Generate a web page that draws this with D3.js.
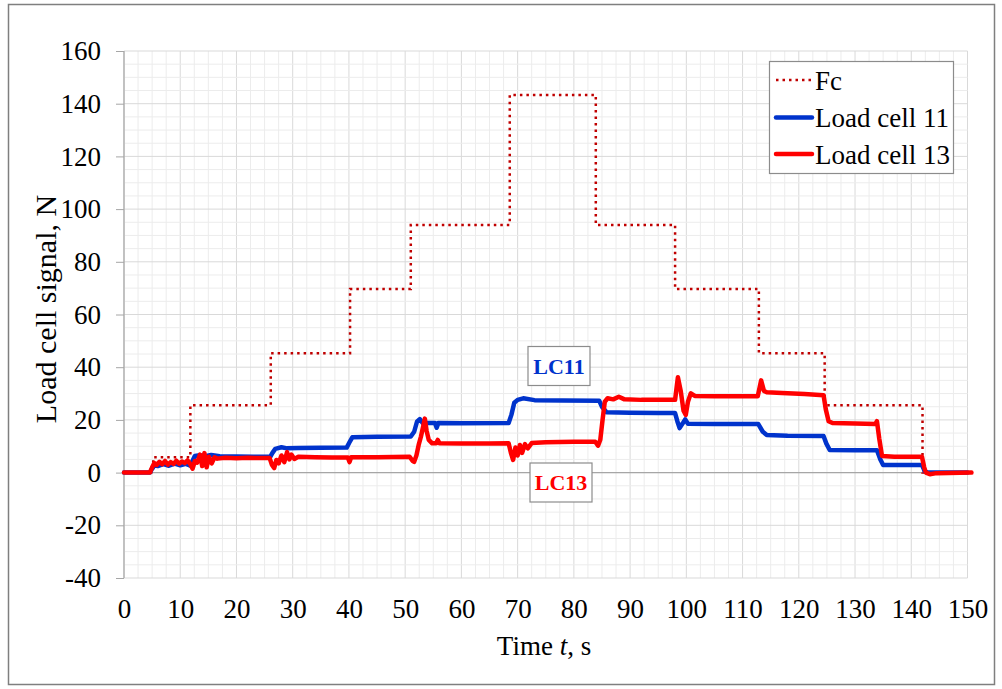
<!DOCTYPE html>
<html>
<head>
<meta charset="utf-8">
<script src="https://cdn.jsdelivr.net/npm/d3@7/dist/d3.min.js"></script>
<style>
  html, body { margin: 0; padding: 0; background: #fff; }
  svg text { font-family: "Liberation Serif", "Times New Roman", serif; }
</style>
</head>
<body>
<svg id="chart" width="1002" height="689"></svg>
<script>
// ---- data ----
const xTicks = [0, 10, 20, 30, 40, 50, 60, 70, 80, 90, 100, 110, 120, 130, 140, 150];
const yTicks = [-40, -20, 0, 20, 40, 60, 80, 100, 120, 140, 160];

const fcTime  = [0, 5.2, 11.8, 26.1, 40.2, 51.0, 68.6, 83.9, 98.0, 112.9, 124.6, 142.0, 150];
const fcValue = [0, 5.8, 25.6, 45.3, 69.7, 94.0, 143.3, 94.0, 69.7, 45.3, 25.6, 0, 0];

const lc11 = [[0,0],[4.6,0],[5.0,1.5],[5.4,2.8],[6,2.5],[7,3.2],[8,2.6],[9,3.4],[10,2.8],[11,3.3],[11.8,2.6],
  [12.2,4.5],[12.6,6.3],[13.5,6.6],[14.5,6.2],[15.5,6.7],[17,6.2],[20,6.1],[23,6.0],[26,6.0],[26.4,7.5],[26.9,9.0],
  [28,9.6],[29,9.2],[31,9.3],[35,9.4],[39.6,9.5],[40.1,11.5],[40.6,13.4],[45,13.6],[51,13.7],[51.6,15.5],[52.1,19.3],
  [52.6,20.3],[53.1,18.8],[55.3,18.8],[55.6,17.0],[55.9,18.8],[60,18.7],[68.4,18.8],[68.9,22],[69.4,26.5],[70,27.6],
  [71,28.2],[73,27.5],[78,27.4],[84.5,27.3],[85,25],[85.8,22.9],[90,22.7],[95,22.6],[98,22.6],[98.4,19.5],[98.8,16.9],
  [99.3,18.5],[99.8,20.2],[100.3,18.5],[105,18.4],[112.8,18.4],[113.6,15.5],[114.3,14.3],[118,14.0],[124.4,13.9],
  [124.9,11],[125.5,8.6],[130,8.5],[133.9,8.5],[134.5,5],[135,2.9],[140,2.9],[141.9,2.9],[142.4,0.5],[143,0],[150,0]];

const lc13 = [[0,0],[4.6,0],[5.0,2],[5.4,3.6],[5.8,2.9],[6.3,4.1],[6.8,3.2],[7.3,4.4],[7.8,3.0],[8.3,4.0],[8.8,3.3],
  [9.3,4.5],[9.8,3.4],[10.3,4.2],[10.8,3.6],[11.3,4.6],[11.8,3.2],[12.2,1.5],[12.6,4.4],[13.0,3.8],[13.5,6.8],[13.9,2.5],
  [14.3,7.4],[14.7,2.0],[15.1,6.0],[15.6,3.5],[16.1,5.8],[16.6,5.3],[18,5.6],[20,5.4],[22,5.6],[24,5.5],[25.9,5.5],
  [26.3,3.0],[26.7,1.7],[27.1,4.8],[27.5,3.5],[28,6.5],[28.5,4.0],[29,7.8],[29.4,5.0],[29.8,6.8],[30.3,5.2],[31,6.0],
  [34,5.8],[37,5.7],[39.8,5.7],[40.1,4.0],[40.4,5.8],[45,5.8],[50.8,6.0],[51.3,4.5],[51.6,4.1],[52.0,6.5],[52.4,10.5],
  [52.8,13.6],[53.2,17.5],[53.5,20.5],[53.8,16],[54.2,12.4],[54.8,11.1],[55.5,11.1],[55.8,12.4],[56.1,11.1],[60,11.0],
  [65,11.0],[68.4,11.1],[68.8,7.5],[69.2,4.8],[69.6,9.5],[70.0,6.5],[70.4,10.5],[70.8,7.5],[71.3,10.8],[71.8,9.2],
  [72.5,11.2],[75,11.5],[80,11.7],[83.8,11.7],[84.3,10.2],[84.7,12.5],[85.1,20],[85.5,26.9],[86,28.2],[87,27.8],
  [88,28.8],[89,27.8],[92,27.6],[95,27.6],[98,27.6],[98.5,36.2],[99.0,31],[99.5,23.5],[99.9,21.9],[100.3,27],
  [100.8,30.1],[101.5,29.1],[105,29.0],[112.7,29.0],[113.3,35.0],[113.8,31],[114.3,30.5],[117,30.2],[121,29.8],
  [124.4,29.4],[124.8,24],[125.3,19.5],[126,18.8],[130,18.6],[133.6,18.4],[133.9,19.5],[134.3,13],[134.8,6.3],
  [137,6.0],[141.9,6.0],[142.3,2],[142.6,0],[143.3,-0.6],[144.5,-0.2],[150.7,0]];

const legendLabels = ["Fc", "Load cell 11", "Load cell 13"];
const colors = { fc: "#c00000", lc11: "#0033cc", lc13: "#ff0000" };

(function () {
// ---- layout ----
const svg = d3.select("#chart");
const pLeft = 124, pRight = 967.5, pTop = 51, pBottom = 578;
const x = d3.scaleLinear().domain([0, 150]).range([pLeft, pRight]);
const y = d3.scaleLinear().domain([-40, 160]).range([pBottom, pTop]);
const FS = "27px";

// outer frame
svg.append("rect").attr("x", 8.5).attr("y", 4.5).attr("width", 986).attr("height", 680)
  .attr("fill", "#fff").attr("stroke", "#7f7f7f").attr("stroke-width", 1.5);

// grid
const g = svg.append("g");
const minorX = d3.range(0, 150.01, 2.5);
const minorY = d3.range(-40, 160.01, 5);
g.selectAll(".mx").data(minorX).join("line")
  .attr("x1", d => x(d)).attr("x2", d => x(d)).attr("y1", pTop).attr("y2", pBottom)
  .attr("stroke", d => d % 10 === 0 ? "#d9d9d9" : "#ececec").attr("stroke-width", 1);
g.selectAll(".my").data(minorY).join("line")
  .attr("y1", d => y(d)).attr("y2", d => y(d)).attr("x1", pLeft).attr("x2", pRight)
  .attr("stroke", d => d % 20 === 0 ? "#d9d9d9" : "#ececec").attr("stroke-width", 1);

// axes lines
svg.append("line").attr("x1", x(0)).attr("x2", x(0)).attr("y1", pTop).attr("y2", pBottom)
  .attr("stroke", "#a6a6a6").attr("stroke-width", 1.2);
svg.append("line").attr("x1", pLeft).attr("x2", pRight).attr("y1", y(0)).attr("y2", y(0))
  .attr("stroke", "#a6a6a6").attr("stroke-width", 1.2);

// y ticks & labels
const yAxis = d3.axisLeft(y).tickValues(yTicks).tickSize(8).tickPadding(15).tickFormat(d => String(d));
const ya = svg.append("g").attr("transform", `translate(${pLeft},0)`).call(yAxis);
ya.select(".domain").remove();
ya.selectAll(".tick line").attr("stroke", "#a6a6a6");
ya.selectAll(".tick text").attr("fill", "#000").style("font-size", FS)
  .style("font-family", "'Liberation Serif', serif");

// x tick labels (low position)
const xAxis = d3.axisBottom(x).tickValues(xTicks).tickSize(0).tickPadding(21).tickFormat(d => String(d));
const xa = svg.append("g").attr("transform", `translate(0,${pBottom})`).call(xAxis);
xa.select(".domain").remove();
xa.selectAll(".tick text").attr("fill", "#000").style("font-size", FS)
  .style("font-family", "'Liberation Serif', serif");

// axis titles
const xt = svg.append("text").attr("x", 544).attr("y", 655).attr("text-anchor", "middle")
  .style("font-size", FS);
xt.append("tspan").text("Time ");
xt.append("tspan").attr("font-style", "italic").text("t");
xt.append("tspan").text(", s");

svg.append("text").attr("transform", "translate(56,309) rotate(-90)").attr("text-anchor", "middle")
  .style("font-size", "30px").text("Load cell signal, N");

// series
const fcPts = fcTime.map((t, i) => [t, fcValue[i]]);
const stepLine = d3.line().x(d => x(d[0])).y(d => y(d[1])).curve(d3.curveStepAfter);
const line = d3.line().x(d => x(d[0])).y(d => y(d[1]));

svg.append("path").attr("d", stepLine(fcPts)).attr("fill", "none")
  .attr("stroke", colors.fc).attr("stroke-width", 2.5).attr("stroke-dasharray", "2.5,4");
svg.append("path").attr("d", line(lc11)).attr("fill", "none")
  .attr("stroke", colors.lc11).attr("stroke-width", 4.5).attr("stroke-linejoin", "round").attr("stroke-linecap", "round");
svg.append("path").attr("d", line(lc13)).attr("fill", "none")
  .attr("stroke", colors.lc13).attr("stroke-width", 4.5).attr("stroke-linejoin", "round").attr("stroke-linecap", "round");

// annotation labels
function boxLabel(cx, cy, txt, col) {
  svg.append("rect").attr("x", cx - 31).attr("y", cy - 19.5).attr("width", 62).attr("height", 39)
    .attr("fill", "#fff").attr("stroke", "#8c8c8c").attr("stroke-width", 1.2);
  svg.append("text").attr("x", cx).attr("y", cy + 7.5).attr("text-anchor", "middle")
    .attr("fill", col).attr("font-weight", "bold").style("font-size", "22px").text(txt);
}
boxLabel(559, 366, "LC11", colors.lc11);
boxLabel(561, 482.5, "LC13", colors.lc13);

// legend
const lg = svg.append("g");
lg.append("rect").attr("x", 769.5).attr("y", 61.5).attr("width", 184).attr("height", 112)
  .attr("fill", "#fff").attr("stroke", "#8c8c8c").attr("stroke-width", 1.2);
const legY = [80, 117.5, 154];
const legStyles = [
  { c: colors.fc, w: 2.5, dash: "2.5,4" },
  { c: colors.lc11, w: 4.5, dash: null },
  { c: colors.lc13, w: 4.5, dash: null }
];
legendLabels.forEach((lab, i) => {
  const l = lg.append("line").attr("x1", 776).attr("x2", 812).attr("y1", legY[i]).attr("y2", legY[i])
    .attr("stroke", legStyles[i].c).attr("stroke-width", legStyles[i].w);
  if (legStyles[i].dash) l.attr("stroke-dasharray", legStyles[i].dash);
  else l.attr("stroke-linecap", "round");
  lg.append("text").attr("x", 815).attr("y", legY[i] + 9.5).style("font-size", FS).text(lab);
});
})();
</script>
</body>
</html>
